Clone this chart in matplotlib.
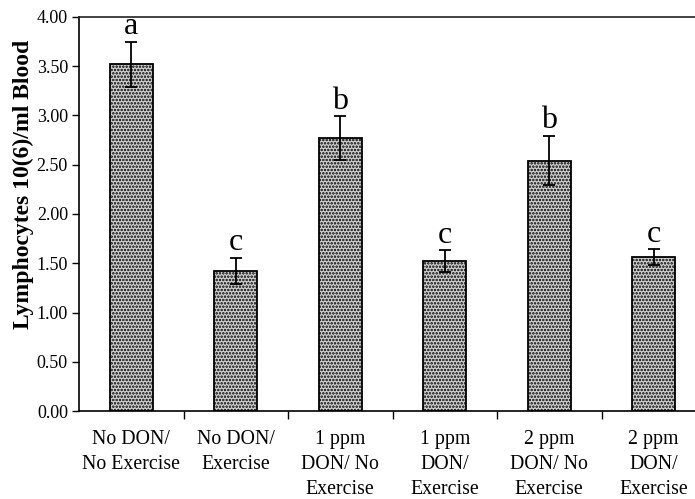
import matplotlib
matplotlib.use("Agg")
import matplotlib.pyplot as plt
import numpy as np

categories = ["No DON/\nNo Exercise", "No DON/\nExercise", "1 ppm\nDON/ No\nExercise",
              "1 ppm\nDON/\nExercise", "2 ppm\nDON/ No\nExercise", "2 ppm\nDON/\nExercise"]
values = [3.52, 1.42, 2.77, 1.52, 2.54, 1.56]
errors = [0.23, 0.13, 0.22, 0.11, 0.25, 0.08]
letters = ["a", "c", "b", "c", "b", "c"]
yticks = [0.0, 0.5, 1.0, 1.5, 2.0, 2.5, 3.0, 3.5, 4.0]

plt.rcParams['font.family'] = ['Liberation Serif', 'DejaVu Serif']
plt.rcParams['hatch.linewidth'] = 1.2

fig = plt.figure(figsize=(6.95, 4.99), dpi=100)
ax = fig.add_axes([79/695, 88/499, 1 - 79/695, 394/499])

x = np.arange(len(values))
ax.bar(x, values, width=0.41, color='#d0d0d0', edgecolor='black', hatch='.....',
       linewidth=1.3, zorder=2)
ax.errorbar(x, values, yerr=errors, fmt='none', ecolor='black', elinewidth=1.3,
            capsize=4, capthick=1.3, zorder=3)
for xi, v, e, l in zip(x, values, errors, letters):
    ax.text(xi, v + e + 0.08, l, ha='center', va='baseline', fontsize=23)

ax.set_xlim(-0.5, 5.5 - 11/104.5)
ax.set_ylim(0, 4.0)
ax.set_yticks(yticks)
ax.set_yticklabels([f"{t:.2f}" for t in yticks], fontsize=13)
ax.set_xticks(x)
ax.set_xticklabels(categories, fontsize=14.3, linespacing=1.42)
ax.set_xticks(np.arange(0.5, 5.0, 1.0), minor=True)
ax.tick_params(axis='x', which='major', length=0, pad=14)
ax.tick_params(axis='x', which='minor', length=6, direction='out', width=1)
ax.tick_params(axis='y', length=5, direction='out', width=1, pad=3)
ax.set_ylabel("Lymphocytes 10(6)/ml Blood", fontsize=17, fontweight='bold')
ax.yaxis.set_label_coords(-(79 - 34) / (695 - 79), (411 - 184) / 394)
ax.spines['right'].set_visible(False)
for s in ['left', 'bottom']:
    ax.spines[s].set_linewidth(1.2)
ax.spines['top'].set_linewidth(1.2)
ax.spines['top'].set_color('#222222')

fig.savefig("out.png", dpi=100)
